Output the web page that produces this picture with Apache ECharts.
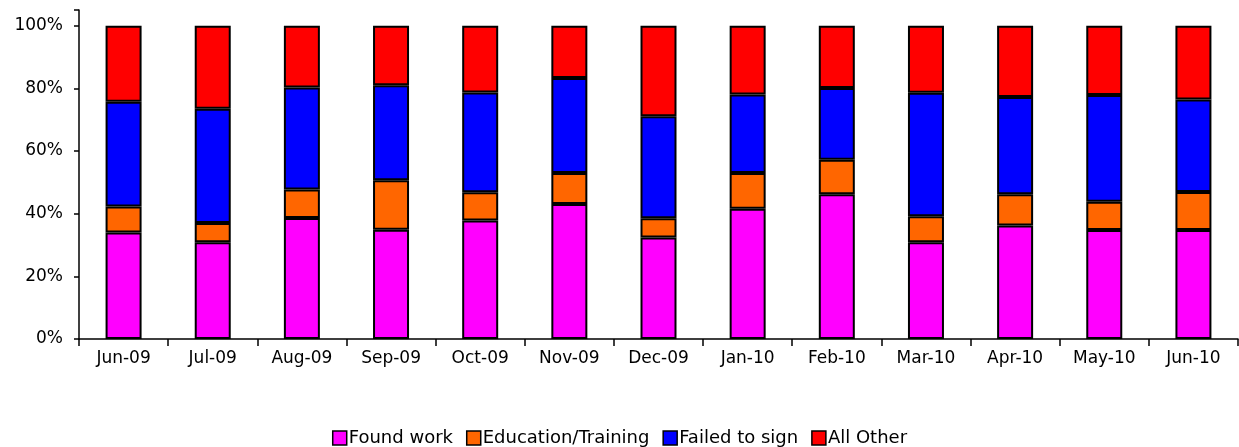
<!DOCTYPE html>
<html>
<head>
<meta charset="utf-8">
<script src="https://cdn.jsdelivr.net/npm/echarts@6/dist/echarts.min.js"></script>
<style>
  html, body { margin: 0; padding: 0; background: #fff; }
  #chart { width: 1239px; height: 447px; }
</style>
</head>
<body>
<div id="chart"></div>
<script>
// months on the x axis
const months = ['Jun-09', 'Jul-09', 'Aug-09', 'Sep-09', 'Oct-09', 'Nov-09', 'Dec-09',
  'Jan-10', 'Feb-10', 'Mar-10', 'Apr-10', 'May-10', 'Jun-10']

// shares in percent
const foundWork = [34.0, 30.9, 38.6, 34.9, 37.8, 43.1, 32.4, 41.6, 46.2, 30.9, 36.2, 34.8, 34.8]
const eduTraining = [8.3, 6.1, 9.1, 15.8, 9.0, 9.9, 6.1, 11.4, 11.0, 8.3, 10.0, 9.0, 12.1]
const failedToSign = [33.4, 36.5, 32.6, 30.3, 31.9, 30.3, 32.6, 25.0, 22.9, 39.4, 31.0, 34.1, 29.5]
const allOther = [24.3, 26.5, 19.7, 19.0, 21.3, 16.7, 28.9, 22.0, 19.9, 21.4, 22.8, 22.1, 23.6]

const font = 'DejaVu Sans'

const chart = echarts.init(document.getElementById('chart'))

const makeSeries = (name, data, color) => ({
  name,
  type: 'bar',
  stack: 'total',
  barWidth: 36,
  data,
  itemStyle: { color, borderColor: '#000', borderWidth: 2 }
})

chart.setOption({
  animation: false,
  legend: {
    top: 424,
    left: 'center',
    itemWidth: 14,
    itemHeight: 14,
    itemGap: 13,
    icon: 'rect',
    itemStyle: { borderColor: '#000', borderWidth: 1.5 },
    textStyle: { fontFamily: font, fontSize: 18, color: '#000', padding: [0, 0, 0, -3] },
    data: ['Found work', 'Education/Training', 'Failed to sign', 'All Other']
  },
  grid: { left: 79, right: 1, top: 10, bottom: 108, containLabel: false, outerBoundsMode: 'none' },
  xAxis: {
    type: 'category',
    data: months,
    axisLine: { lineStyle: { color: '#000', width: 1.5 } },
    axisTick: { show: true, length: 7, lineStyle: { color: '#000', width: 1.5 } },
    axisLabel: { fontFamily: font, fontSize: 17, color: '#000', margin: 11 }
  },
  yAxis: {
    type: 'value',
    min: 0,
    max: 105,
    interval: 20,
    axisLine: { show: true, lineStyle: { color: '#000', width: 1.5 } },
    axisTick: { show: true, length: 5, lineStyle: { color: '#000', width: 1.5 } },
    splitLine: { show: false },
    axisLabel: {
      fontFamily: font, fontSize: 17, color: '#000', margin: 16,
      formatter: v => (v <= 100 ? v + '%' : '')
    }
  },
  series: [
    makeSeries('Found work', foundWork, '#FF00FF'),
    makeSeries('Education/Training', eduTraining, '#FF6600'),
    makeSeries('Failed to sign', failedToSign, '#0000FF'),
    makeSeries('All Other', allOther, '#FF0000')
  ]
})
</script>
</body>
</html>
